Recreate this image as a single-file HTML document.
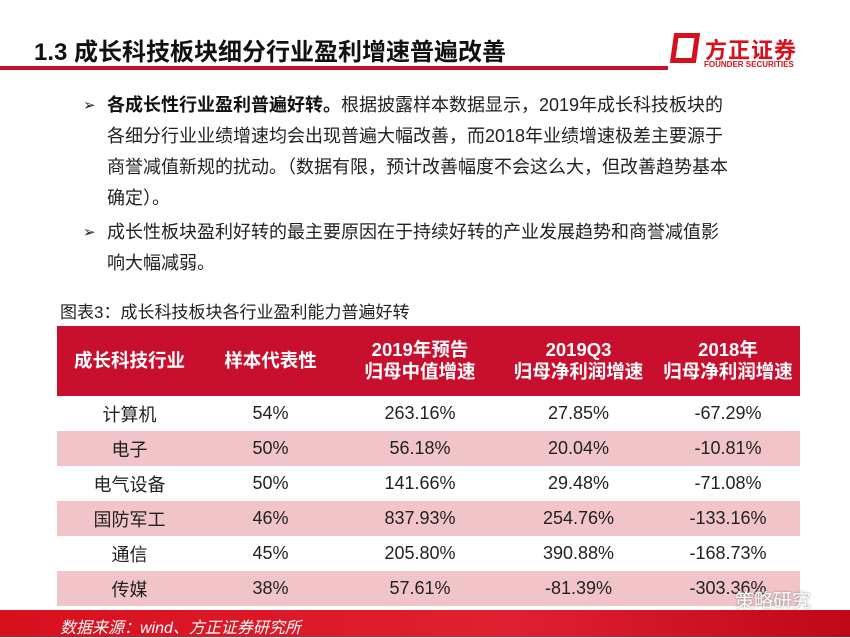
<!DOCTYPE html>
<html><head><meta charset="utf-8"><style>
body{margin:0;width:850px;height:637px;background:#fff;position:relative;overflow:hidden;font-family:"Liberation Sans","Noto Sans CJK SC",sans-serif;color:#222}
.a{position:absolute}
.title{left:34px;top:32px;font-size:24px;font-weight:bold;color:#111}
.line{left:0;top:66px;width:668px;height:4px;background:#c8102e}
.p{left:107px;font-size:18px;line-height:31px;width:622px;color:#222}
.p b{color:#111}
.arrow{position:absolute;left:-24px;font-size:15px}
table{position:absolute;left:57px;top:326px;width:743px;border-collapse:collapse;font-size:18px}
th{background:#c8102e;color:#fff;height:68px;font-size:18.5px;line-height:22px;font-weight:bold}
td{height:35px;text-align:center;padding:0}
tr.k td{background:#f0c4c8}
.foot{left:0;top:610px;width:850px;height:27px;background:linear-gradient(90deg,#d8101e,#e02030 60%,#c00818)}
</style></head><body>
<div class="a title">1.3 成长科技板块细分行业盈利增速普遍改善</div>
<div class="a line"></div>
<div class="a" style="left:672px;top:33px;width:26px;height:30px;border:5px solid #d8101e;box-sizing:border-box;transform:skewX(-8deg)"></div>
<div class="a" style="left:705px;top:33px;font-size:22px;font-weight:bold;color:#d8101e;letter-spacing:1px">方正证券</div>
<div class="a" style="left:704px;top:60px;font-size:8px;font-weight:bold;color:#d8101e">FOUNDER SECURITIES</div>
<div class="a p" style="top:90px"><span class="arrow">➢</span><b>各成长性行业盈利普遍好转。</b>根据披露样本数据显示，2019年成长科技板块的各细分行业业绩增速均会出现普遍大幅改善，而2018年业绩增速极差主要源于商誉减值新规的扰动。（数据有限，预计改善幅度不会这么大，但改善趋势基本确定）。</div>
<div class="a p" style="top:217px"><span class="arrow">➢</span>成长性板块盈利好转的最主要原因在于持续好转的产业发展趋势和商誉减值影响大幅减弱。</div>
<div class="a" style="left:60px;top:298px;font-size:17px;color:#222">图表3：成长科技板块各行业盈利能力普遍好转</div>
<table>
<tr><th style="width:143px">成长科技行业</th><th style="width:135px">样本代表性</th><th style="width:160px">2019年预告<br>归母中值增速</th><th style="width:153px">2019Q3<br>归母净利润增速</th><th>2018年<br>归母净利润增速</th></tr>
<tr><td>计算机</td><td>54%</td><td>263.16%</td><td>27.85%</td><td>-67.29%</td></tr>
<tr class="k"><td>电子</td><td>50%</td><td>56.18%</td><td>20.04%</td><td>-10.81%</td></tr>
<tr><td>电气设备</td><td>50%</td><td>141.66%</td><td>29.48%</td><td>-71.08%</td></tr>
<tr class="k"><td>国防军工</td><td>46%</td><td>837.93%</td><td>254.76%</td><td>-133.16%</td></tr>
<tr><td>通信</td><td>45%</td><td>205.80%</td><td>390.88%</td><td>-168.73%</td></tr>
<tr class="k"><td>传媒</td><td>38%</td><td>57.61%</td><td>-81.39%</td><td>-303.36%</td></tr>
</table>
<div class="a" style="left:735px;top:586px;font-size:19px;color:#fff;text-shadow:0 0 2px #777">策略研究</div>
<div class="a foot"></div>
<div class="a" style="left:60px;top:614px;font-size:16px;color:#fff;font-style:italic">数据来源：wind、方正证券研究所</div>
</body></html>
